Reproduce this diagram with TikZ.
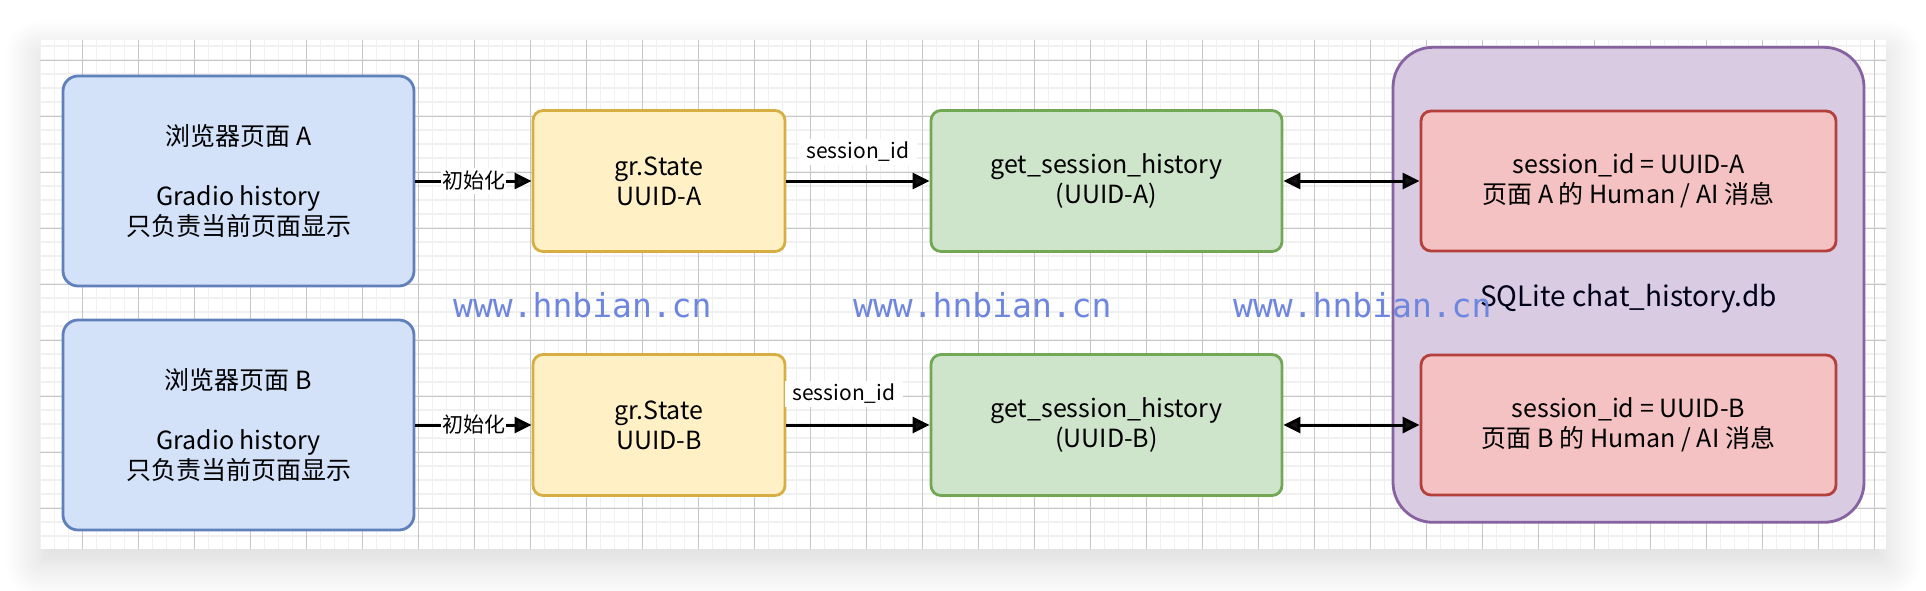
\documentclass[tikz,border=0pt]{standalone}
\usepackage{fontspec}
\setmainfont{Noto Sans CJK SC}
\newfontfamily\wmfont{DejaVu Sans Mono}
\usepackage{tikz}
\usetikzlibrary{arrows.meta, shadows.blur}

\definecolor{pagefill}{HTML}{D3E1F9}
\definecolor{pageline}{HTML}{5F80BA}
\definecolor{statefill}{HTML}{FFF1C5}
\definecolor{stateline}{HTML}{D6AE43}
\definecolor{histfill}{HTML}{CEE4CB}
\definecolor{histline}{HTML}{72A754}
\definecolor{dbfill}{HTML}{D9CBE2}
\definecolor{dbline}{HTML}{8762A0}
\definecolor{recfill}{HTML}{F4C2C2}
\definecolor{recline}{HTML}{B4403C}
\definecolor{wmblue}{HTML}{6E86DE}

\begin{document}
\begin{tikzpicture}[x=1pt, y=-1pt,
  box/.style={draw, rounded corners=10pt, line width=2.8pt, align=center,
    inner sep=0pt, font=\fontsize{25}{30}\selectfont},
  flow/.style={line width=3pt, -{Triangle[length=17pt,width=16pt]}},
  both/.style={line width=3pt,
    {Triangle[length=17pt,width=16pt]}-{Triangle[length=17pt,width=16pt]}},
  lbl/.style={fill=white, inner xsep=8pt, inner ysep=3pt,
    font=\fontsize{21}{25}\selectfont},
  wmark/.style={text=wmblue, anchor=base west, inner sep=0pt,
    font=\wmfont\fontsize{33}{33}\selectfont},
  minorgrid/.style={draw=black!6, line width=1.3pt},
  majorgrid/.style={draw=black!22, line width=1pt}]

\useasboundingbox (0,0) rectangle (1926,590);

%% ── Canvas with grid ─────────────────────────
\fill[white, blur shadow={shadow xshift=0pt, shadow yshift=-14pt,
  shadow blur radius=34pt, shadow blur steps=20, shadow opacity=16}]
  (40,40) rectangle (1886,549);
\foreach \k in {0,...,131}
  \draw[minorgrid] (40.7+14*\k,40) -- (40.7+14*\k,549);
\foreach \k in {0,...,35}
  \draw[minorgrid] (40,46+14*\k) -- (1886,46+14*\k);
\foreach \k in {0,...,32}
  \draw[majorgrid] (82.7+56*\k,40) -- (82.7+56*\k,549);
\foreach \k in {0,...,8}
  \draw[majorgrid] (40,60+56*\k) -- (1886,60+56*\k);

\def\ya{181}
\def\yb{425}

%% ── Browser pages (left) ─────────────────────
\node[box, rounded corners=15pt, fill=pagefill, draw=pageline,
  minimum width=351pt, minimum height=210pt] (pageA) at (238.5,\ya)
  {浏览器页面 A\\\mbox{}\\Gradio history\\只负责当前页面显示};
\node[box, rounded corners=15pt, fill=pagefill, draw=pageline,
  minimum width=351pt, minimum height=210pt] (pageB) at (238.5,\yb)
  {浏览器页面 B\\\mbox{}\\Gradio history\\只负责当前页面显示};

%% ── gr.State ──────────────────────────────────
\node[box, fill=statefill, draw=stateline,
  minimum width=252pt, minimum height=141pt] (stateA) at (659,\ya)
  {gr.State\\UUID-A};
\node[box, fill=statefill, draw=stateline,
  minimum width=252pt, minimum height=141pt] (stateB) at (659,\yb)
  {gr.State\\UUID-B};

%% ── get_session_history ──────────────────────
\node[box, fill=histfill, draw=histline,
  minimum width=351pt, minimum height=141pt] (histA) at (1106.5,\ya)
  {get\_session\_history\\(UUID-A)};
\node[box, fill=histfill, draw=histline,
  minimum width=351pt, minimum height=141pt] (histB) at (1106.5,\yb)
  {get\_session\_history\\(UUID-B)};

%% ── SQLite database (right) ──────────────────
\node[box, rounded corners=40pt, fill=dbfill, draw=dbline,
  minimum width=471pt, minimum height=475pt] (db) at (1628.5,284.8) {};
\node[font=\fontsize{28}{33}\selectfont, text=black!90!blue] (dbname)
  at (1628.5,299) {SQLite chat\_history.db};
\node[box, fill=recfill, draw=recline,
  minimum width=415pt, minimum height=140pt] (recA) at (1628.5,\ya)
  {session\_id = UUID-A\\页面 A 的 Human / AI 消息};
\node[box, fill=recfill, draw=recline,
  minimum width=415pt, minimum height=140pt] (recB) at (1628.5,\yb)
  {session\_id = UUID-B\\页面 B 的 Human / AI 消息};

%% ── Connectors ────────────────────────────────
\draw[flow] (pageA) -- node[lbl, inner xsep=1pt] {初始化} (stateA);
\draw[flow] (pageB) -- node[lbl, inner xsep=1pt] {初始化} (stateB);
\draw[flow] (stateA) -- node[lbl, yshift=29pt] {session\_id} (histA);
\draw[flow] (stateB) -- node[lbl, xshift=-14pt, yshift=31pt] {session\_id} (histB);
\draw[both] (histA) -- (recA);
\draw[both] (histB) -- (recB);

%% ── Watermark ─────────────────────────────────
\node[wmark] (wm1) at (453,317) {www.hnbian.cn};
\node[wmark] (wm2) at (853,317) {www.hnbian.cn};
\node[wmark] (wm3) at (1233,317) {www.hnbian.cn};

\end{tikzpicture}
\end{document}
